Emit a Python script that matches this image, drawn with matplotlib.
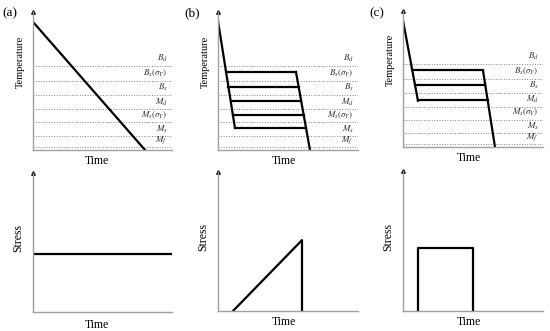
import matplotlib.pyplot as plt
import numpy as np

plt.rcParams['font.family'] = ['Liberation Serif', 'DejaVu Serif']
plt.rcParams['mathtext.fontset'] = 'stix'

# temperature levels (dotted lines), top to bottom, in % of axis height
level_names = [r'$B_d$', r'$B_s(\sigma_Y)$', r'$B_s$', r'$M_d$',
               r'$M_s(\sigma_Y)$', r'$M_s$', r'$M_f$']
level_temps = [61, 50, 40, 29.5, 20, 10, 2]

# (a) continuous cooling
cool_a_t = [0, 80.6]
cool_a_T = [92.8, 0]

# (b) cooling with five holds
left_b_t = [0, 12.1]
left_b_T = [93.5, 16]
right_b_t = [55.7, 65.7]
right_b_T = [56.5, 0]
holds_b = [56.5, 45.7, 35.5, 25.4, 16]

# (c) cooling with three holds
left_c_t = [0, 10.7]
left_c_T = [93, 34]
right_c_t = [57.1, 65.7]
right_c_T = [56.5, 0]
holds_c = [56.5, 45.7, 34.8]

# stress histories
stress_a_t = [0, 100]
stress_a_s = [41.7, 41.7]
stress_b_t = [10.7, 60, 60]
stress_b_s = [0, 51, 0]
stress_c_t = [10.7, 10.7, 50, 50]
stress_c_s = [0, 45.3, 45.3, 0]

W, H = 550, 331
fig = plt.figure(figsize=(W / 100, H / 100), dpi=100)


def make_ax(left, bottom, right, top):
    ax = fig.add_axes([left / W, 1 - bottom / H, (right - left) / W, (bottom - top) / H])
    ax.set_xlim(0, 100)
    ax.set_ylim(0, 100)
    for s in ['top', 'right']:
        ax.spines[s].set_visible(False)
    for s in ['left', 'bottom']:
        ax.spines[s].set_color('#a0a0a0')
        ax.spines[s].set_linewidth(1.0)
    ax.set_xticks([])
    ax.set_yticks([])
    ax.plot(0, 1, marker='^', color='black', markersize=2.5,
            transform=ax.transAxes, clip_on=False)
    return ax


def temp_levels(ax):
    for name, T in zip(level_names, level_temps):
        ax.axhline(T, color='#808080', linestyle=':', linewidth=0.7)
        ax.text(97, T + 1.2, name, ha='right', va='bottom', fontsize=6.5, color='#333333')


def labels(ax, ylab, ypos, xpos, ylab_y, yfs):
    ax.set_ylabel(ylab, fontsize=yfs)
    ax.yaxis.set_label_coords(-0.06, ylab_y)
    ax.set_xlabel('Time', fontsize=8.5)
    ax.xaxis.set_label_coords(xpos, ypos)


lw = 1.6

# top row
ax = make_ax(33, 150, 172, 12)
temp_levels(ax)
ax.plot(cool_a_t, cool_a_T, color='black', linewidth=lw)
labels(ax, 'Temperature', -0.035, 0.46, 0.64, 7.5)

ax = make_ax(218, 150, 358, 12)
temp_levels(ax)
ax.plot(left_b_t, left_b_T, color='black', linewidth=lw)
ax.plot(right_b_t, right_b_T, color='black', linewidth=lw)
for T in holds_b:
    x0 = np.interp(T, left_b_T[::-1], left_b_t[::-1])
    x1 = np.interp(T, right_b_T[::-1], right_b_t[::-1])
    ax.plot([x0, x1], [T, T], color='black', linewidth=lw)
labels(ax, 'Temperature', -0.035, 0.47, 0.64, 7.5)

ax = make_ax(403, 147, 543, 11)
temp_levels(ax)
ax.plot(left_c_t, left_c_T, color='black', linewidth=lw)
ax.plot(right_c_t, right_c_T, color='black', linewidth=lw)
for T in holds_c:
    x0 = np.interp(T, left_c_T[::-1], left_c_t[::-1])
    x1 = np.interp(T, right_c_T[::-1], right_c_t[::-1])
    ax.plot([x0, x1], [T, T], color='black', linewidth=lw)
labels(ax, 'Temperature', -0.04, 0.47, 0.64, 7.5)

# bottom row
ax = make_ax(33, 312, 172, 173)
ax.plot(stress_a_t, stress_a_s, color='black', linewidth=lw)
labels(ax, 'Stress', -0.05, 0.46, 0.53, 8.5)

ax = make_ax(218, 311, 358, 172)
ax.plot(stress_b_t, stress_b_s, color='black', linewidth=lw)
labels(ax, 'Stress', -0.035, 0.47, 0.53, 8.5)

ax = make_ax(403, 311, 543, 171)
ax.plot(stress_c_t, stress_c_s, color='black', linewidth=lw)
labels(ax, 'Stress', -0.035, 0.47, 0.53, 8.5)

for lab, x in zip(['(a)', '(b)', '(c)'], [2, 184, 369]):
    fig.text(x / W, 1 - 13 / H, lab, fontsize=9.5, ha='left', va='center')

fig.savefig('out.png', dpi=100)
